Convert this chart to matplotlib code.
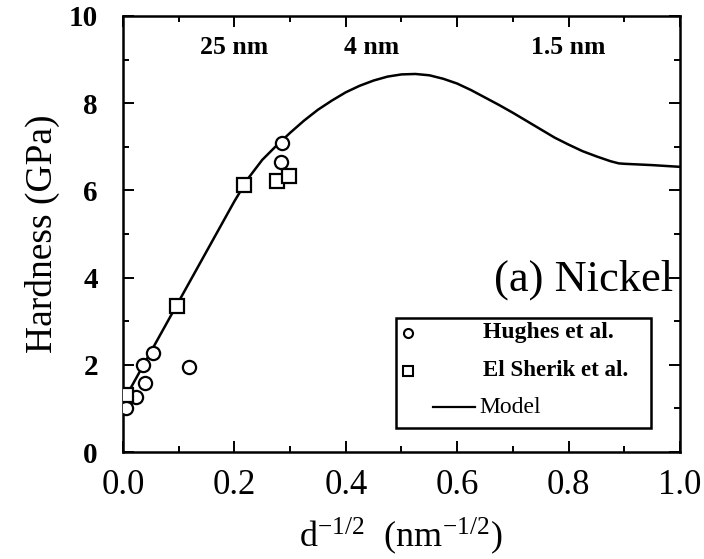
import matplotlib
matplotlib.use("Agg")
import matplotlib.pyplot as plt
from matplotlib.patches import Rectangle
from matplotlib.ticker import MultipleLocator, FormatStrFormatter

plt.rcParams['font.family'] = ['Liberation Serif', 'DejaVu Serif']
plt.rcParams['mathtext.fontset'] = 'stix'

# Hughes et al. (circles)
hughes_x = [0.006, 0.024, 0.039, 0.036, 0.054, 0.118, 0.283, 0.286]
hughes_y = [1.01, 1.27, 1.59, 2.00, 2.28, 1.96, 6.66, 7.09]

# El Sherik et al. (squares)
sherik_x = [0.005, 0.097, 0.217, 0.277, 0.298]
sherik_y = [1.31, 3.35, 6.12, 6.22, 6.33]

# Model curve
model_x = [0.0, 0.05, 0.10, 0.15, 0.20, 0.225, 0.25, 0.275, 0.30, 0.325, 0.35,
           0.375, 0.40, 0.425, 0.45, 0.475, 0.50, 0.525, 0.55, 0.575, 0.60,
           0.625, 0.65, 0.675, 0.70, 0.725, 0.75, 0.775, 0.80, 0.825, 0.85,
           0.875, 0.89, 0.90, 0.95, 1.0]
model_y = [1.15, 2.30, 3.45, 4.60, 5.75, 6.28, 6.70, 7.02, 7.32, 7.60, 7.85,
           8.06, 8.25, 8.40, 8.52, 8.61, 8.66, 8.67, 8.64, 8.56, 8.45,
           8.30, 8.13, 7.96, 7.78, 7.59, 7.40, 7.21, 7.05, 6.90, 6.78,
           6.67, 6.62, 6.61, 6.58, 6.54]

size_labels = ['25 nm', '4 nm', '1.5 nm']
size_label_x = [0.20, 0.447, 0.80]

legend_labels = ['Hughes et al.', 'El Sherik et al.', 'Model']

fig = plt.figure(figsize=(7.04, 5.59), dpi=100)
ax = fig.add_axes([0.1747, 0.1914, 0.7912, 0.78])

ax.plot(model_x, model_y, color='black', lw=1.8, zorder=2)
ax.plot(hughes_x, hughes_y, ls='none', marker='o', ms=9.5, mfc='white',
        mec='black', mew=1.6, zorder=3)
ax.plot(sherik_x, sherik_y, ls='none', marker='s', ms=9.5, mfc='white',
        mec='black', mew=1.6, zorder=3)

ax.set_xlim(0, 1.0)
ax.set_ylim(0, 10)
ax.xaxis.set_major_locator(MultipleLocator(0.2))
ax.xaxis.set_minor_locator(MultipleLocator(0.1))
ax.yaxis.set_major_locator(MultipleLocator(2))
ax.yaxis.set_minor_locator(MultipleLocator(1))
ax.xaxis.set_major_formatter(FormatStrFormatter('%.1f'))
ax.tick_params(which='both', direction='in', top=True, right=True, width=1.4)
ax.tick_params(which='major', length=8)
ax.tick_params(which='minor', length=4)
ax.tick_params(axis='x', labelsize=25, pad=12)
ax.tick_params(axis='y', labelsize=21, pad=18)
for lab in ax.get_yticklabels():
    lab.set_fontweight('bold')
for sp in ax.spines.values():
    sp.set_linewidth(1.8)

ax.set_ylabel('Hardness (GPa)', fontsize=27, labelpad=6)
ax.set_xlabel(r'd$^{\mathregular{-1/2}}$  (nm$^{\mathregular{-1/2}}$)',
              fontsize=26, labelpad=10)

for lbl, xv in zip(size_labels, size_label_x):
    ax.text(xv, 9.28, lbl, ha='center', va='center', fontsize=18.5,
            fontweight='bold')

ax.text(0.987, 0.394, '(a) Nickel', transform=ax.transAxes, ha='right',
        va='center', fontsize=32)

# legend box drawn manually to match the reference layout
ax.add_patch(Rectangle((0.49, 0.055), 0.4585, 0.253, transform=ax.transAxes,
                       fill=False, lw=1.8, ec='black', zorder=4))
row_y = [0.273, 0.186, 0.103]
ax.plot([0.512], [row_y[0]], transform=ax.transAxes, marker='o', ms=6.5,
        mfc='white', mec='black', mew=1.5, ls='none', zorder=5)
ax.plot([0.512], [row_y[1]], transform=ax.transAxes, marker='s', ms=6.5,
        mfc='white', mec='black', mew=1.5, ls='none', zorder=5)
ax.plot([0.556, 0.632], [row_y[2], row_y[2]], transform=ax.transAxes,
        color='black', lw=1.6, zorder=5)
ax.text(0.646, row_y[0], legend_labels[0], transform=ax.transAxes, va='center',
        fontsize=17, fontweight='bold')
ax.text(0.646, row_y[1], legend_labels[1], transform=ax.transAxes, va='center',
        fontsize=16.5, fontweight='bold')
ax.text(0.640, row_y[2], legend_labels[2], transform=ax.transAxes, va='center',
        fontsize=17)

fig.savefig('out.png', dpi=100)
